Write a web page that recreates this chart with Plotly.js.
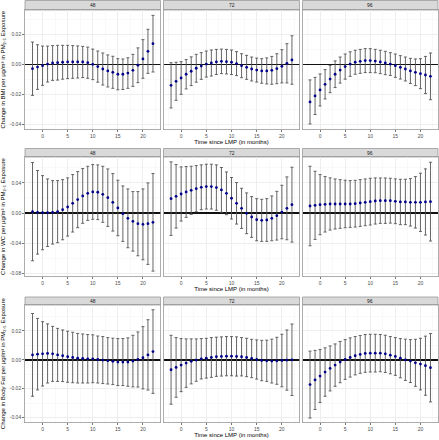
<!DOCTYPE html>
<html>
<head>
<meta charset="utf-8">
<script src="https://cdn.plot.ly/plotly-3.0.1.min.js"></script>
<style>html,body{margin:0;padding:0;background:#fff;}#chart{width:439px;height:440px;}</style>
</head>
<body>
<div id="chart"></div>
<script>
// ---- data ----
const months = [-2,-1,0,1,2,3,4,5,6,7,8,9,10,11,12,13,14,15,16,17,18,19,20,21,22];
const facetLabels = ["48","72","96"];
const outcomeTitles = [
  "Change in BMI per \u00b5g/m\u00b3 in PM\u2082.\u2085 Exposure",
  "Change in WC per \u00b5g/m\u00b3 in PM\u2082.\u2085 Exposure",
  "Change in Body Fat per \u00b5g/m\u00b3 in PM\u2082.\u2085 Exposure"
];
const xTitle = "Time since LMP (in months)";
const xTickVals = [0,5,10,15,20];
const xTickText = ["0","5","10","15","20"];
const yTickVals = [[0.02,0,-0.02,-0.04],[0.04,0,-0.04,-0.08],[0.02,0,-0.02,-0.04]];
const yTickText = [["0.02","0.00","-0.02","-0.04"],["0.04","0.00","-0.04","-0.08"],["0.02","0.00","-0.02","-0.04"]];

const bmi48Est = [-0.0027,-0.0016,-0.0007,0.0004,0.0011,0.0013,0.0016,0.0018,0.0018,0.0018,0.0018,0.0013,0.0002,-0.0013,-0.0029,-0.0042,-0.0051,-0.0064,-0.0064,-0.0056,-0.0038,-0.0004,0.0038,0.0089,0.0140];
const bmi48Ci  = [0.0178,0.0149,0.0131,0.0120,0.0116,0.0116,0.0113,0.0111,0.0109,0.0107,0.0104,0.0104,0.0102,0.0104,0.0107,0.0107,0.0107,0.0104,0.0102,0.0102,0.0107,0.0116,0.0129,0.0147,0.0189];
const bmi72Est = [-0.0138,-0.0111,-0.0089,-0.0064,-0.0044,-0.0024,-0.0009,0.0004,0.0011,0.0018,0.0022,0.0020,0.0016,0.0007,-0.0007,-0.0018,-0.0029,-0.0036,-0.0042,-0.0042,-0.0038,-0.0027,-0.0011,0.0009,0.0031];
const bmi72Ci  = [0.0151,0.0127,0.0109,0.0098,0.0096,0.0093,0.0089,0.0087,0.0087,0.0084,0.0082,0.0082,0.0082,0.0080,0.0080,0.0080,0.0080,0.0080,0.0082,0.0087,0.0093,0.0100,0.0111,0.0131,0.0162];
const bmi96Est = [-0.0249,-0.0209,-0.0169,-0.0131,-0.0096,-0.0064,-0.0036,-0.0013,0.0004,0.0016,0.0022,0.0027,0.0027,0.0024,0.0018,0.0011,0.0004,-0.0007,-0.0018,-0.0029,-0.0042,-0.0051,-0.0060,-0.0069,-0.0078];
const bmi96Ci  = [0.0147,0.0124,0.0107,0.0098,0.0091,0.0089,0.0087,0.0084,0.0082,0.0080,0.0080,0.0080,0.0080,0.0078,0.0078,0.0078,0.0076,0.0078,0.0078,0.0080,0.0084,0.0089,0.0100,0.0124,0.0156];

const wc48Est = [0.0018,0.0009,0.0004,0.0004,0.0009,0.0018,0.0044,0.0080,0.0129,0.0178,0.0227,0.0262,0.0280,0.0276,0.0249,0.0204,0.0142,0.0067,-0.0009,-0.0071,-0.0111,-0.0142,-0.0151,-0.0142,-0.0124];
const wc48Ci  = [0.0653,0.0556,0.0493,0.0449,0.0422,0.0413,0.0400,0.0387,0.0382,0.0373,0.0364,0.0360,0.0364,0.0364,0.0373,0.0382,0.0382,0.0369,0.0369,0.0391,0.0396,0.0427,0.0471,0.0542,0.0649];
const wc72Est = [0.0191,0.0222,0.0253,0.0280,0.0302,0.0324,0.0342,0.0351,0.0351,0.0338,0.0307,0.0262,0.0196,0.0129,0.0062,-0.0004,-0.0053,-0.0089,-0.0098,-0.0093,-0.0071,-0.0036,0.0013,0.0062,0.0111];
const wc72Ci  = [0.0489,0.0422,0.0360,0.0338,0.0320,0.0307,0.0298,0.0298,0.0298,0.0302,0.0298,0.0284,0.0276,0.0276,0.0267,0.0271,0.0271,0.0280,0.0280,0.0284,0.0298,0.0324,0.0356,0.0418,0.0498];
const wc96Est = [0.0093,0.0102,0.0111,0.0116,0.0120,0.0120,0.0120,0.0120,0.0120,0.0124,0.0133,0.0142,0.0151,0.0160,0.0164,0.0164,0.0164,0.0156,0.0147,0.0147,0.0142,0.0142,0.0142,0.0147,0.0151];
const wc96Ci  = [0.0529,0.0453,0.0400,0.0369,0.0347,0.0333,0.0324,0.0316,0.0311,0.0311,0.0311,0.0311,0.0311,0.0307,0.0302,0.0302,0.0298,0.0298,0.0302,0.0302,0.0316,0.0342,0.0387,0.0440,0.0524];

const bf48Est = [0.0034,0.0039,0.0041,0.0044,0.0041,0.0034,0.0028,0.0021,0.0016,0.0011,0.0009,0.0007,0.0007,0.0002,-0.0002,-0.0007,-0.0011,-0.0016,-0.0016,-0.0016,-0.0009,0.0002,0.0014,0.0034,0.0057];
const bf48Ci  = [0.0287,0.0248,0.0223,0.0205,0.0191,0.0184,0.0179,0.0177,0.0175,0.0172,0.0170,0.0168,0.0166,0.0163,0.0163,0.0161,0.0161,0.0163,0.0163,0.0168,0.0179,0.0191,0.0216,0.0244,0.0290];
const bf72Est = [-0.0069,-0.0053,-0.0037,-0.0023,-0.0011,-0.0002,0.0007,0.0011,0.0016,0.0021,0.0023,0.0025,0.0025,0.0023,0.0021,0.0016,0.0009,0.0002,-0.0005,-0.0007,-0.0009,-0.0007,-0.0005,-0.0002,0.0000];
const bf72Ci  = [0.0239,0.0207,0.0184,0.0168,0.0156,0.0147,0.0140,0.0138,0.0138,0.0136,0.0136,0.0136,0.0136,0.0136,0.0133,0.0133,0.0133,0.0136,0.0140,0.0143,0.0152,0.0163,0.0182,0.0209,0.0248];
const bf96Est = [-0.0172,-0.0140,-0.0113,-0.0085,-0.0060,-0.0037,-0.0016,0.0002,0.0016,0.0028,0.0037,0.0044,0.0046,0.0046,0.0046,0.0041,0.0032,0.0023,0.0011,0.0000,-0.0009,-0.0021,-0.0030,-0.0041,-0.0055];
const bf96Ci  = [0.0232,0.0205,0.0184,0.0168,0.0156,0.0147,0.0143,0.0138,0.0136,0.0133,0.0131,0.0131,0.0131,0.0131,0.0129,0.0129,0.0129,0.0131,0.0136,0.0143,0.0149,0.0163,0.0179,0.0205,0.0237];

// ---- build ----
const panels = [
  [bmi48Est,bmi48Ci],[bmi72Est,bmi72Ci],[bmi96Est,bmi96Ci],
  [wc48Est,wc48Ci],[wc72Est,wc72Ci],[wc96Est,wc96Ci],
  [bf48Est,bf48Ci],[bf72Est,bf72Ci],[bf96Est,bf96Ci]
];

const W = 439, H = 440;
const colPx = [[25,160.5],[163.5,299.5],[302.5,438]];
const rowPx = [[10,129.5],[157,276],[305,422.5]];
const stripPx = [[0.5,10],[148.5,157],[297,305]];
const yRanges = [[-0.0433,0.0365],[-0.0838,0.0745],[-0.0435,0.038]];
const yMinor = [0.01,0.02,0.01];
const FONT = "Liberation Sans, Arial, sans-serif";

const traces = [];
const layout = {
  width: W, height: H,
  margin: {l:0,r:0,t:0,b:0,pad:0},
  paper_bgcolor: "#ffffff",
  plot_bgcolor: "#ffffff",
  showlegend: false,
  font: {family: FONT, size: 6, color: "#1a1a1a"},
  shapes: [], annotations: []
};

panels.forEach((p, i) => {
  const r = Math.floor(i/3), c = i % 3;
  const n = i + 1;
  const xa = "x" + (n === 1 ? "" : n), ya = "y" + (n === 1 ? "" : n);
  traces.push({
    type: "scatter", mode: "markers",
    x: months, y: p[0], xaxis: xa, yaxis: ya,
    marker: {color: "#00008B", size: 2.8},
    error_y: {type: "data", array: p[1], visible: true, color: "#555555", thickness: 0.9, width: 1.5},
    hoverinfo: "skip"
  });
  const xd = [colPx[c][0]/W, colPx[c][1]/W];
  const yd = [1 - rowPx[r][1]/H, 1 - rowPx[r][0]/H];
  const xaxis = {
    domain: xd, anchor: ya, range: [-3.5, 23.5],
    tickmode: "array", tickvals: xTickVals, ticktext: xTickText,
    ticks: "outside", ticklen: 2, tickwidth: 0.8, tickcolor: "#555",
    tickfont: {size: 5, color: "#4d4d4d", family: FONT},
    showgrid: true, gridcolor: "#ebebeb", gridwidth: 0.8,
    minor: {dtick: 2.5, tick0: 0, showgrid: true, gridcolor: "#f4f4f4", gridwidth: 0.5},
    zeroline: false, showline: true, mirror: true, linecolor: "#999999", linewidth: 0.8,
    automargin: false, fixedrange: true
  };
  if (c === 1) xaxis.title = {text: xTitle, font: {size: 6, color: "#000", family: FONT}, standoff: 1};
  layout["xaxis" + (n === 1 ? "" : n)] = xaxis;
  const yaxis = {
    domain: yd, anchor: xa, range: yRanges[r],
    tickmode: "array", tickvals: yTickVals[r], ticktext: yTickText[r],
    showticklabels: c === 0,
    ticks: c === 0 ? "outside" : "", ticklen: 2, tickwidth: 0.8, tickcolor: "#555",
    tickfont: {size: 5, color: "#4d4d4d", family: FONT},
    showgrid: true, gridcolor: "#ebebeb", gridwidth: 0.8,
    minor: {dtick: yMinor[r], tick0: 0, showgrid: true, gridcolor: "#f4f4f4", gridwidth: 0.5},
    zeroline: true, zerolinecolor: "#111111", zerolinewidth: 1.6,
    showline: true, mirror: true, linecolor: "#999999", linewidth: 0.8,
    automargin: false, fixedrange: true
  };
  if (c === 0) yaxis.title = {text: outcomeTitles[r], font: {size: 6, color: "#000", family: FONT}, standoff: 4};
  layout["yaxis" + (n === 1 ? "" : n)] = yaxis;
  // strip
  layout.shapes.push({
    type: "rect", xref: "paper", yref: "paper",
    x0: xd[0], x1: xd[1], y0: 1 - stripPx[r][1]/H, y1: 1 - stripPx[r][0]/H,
    fillcolor: "#d9d9d9", line: {color: "#999999", width: 0.8}, layer: "below"
  });
  layout.annotations.push({
    xref: "paper", yref: "paper", x: (xd[0]+xd[1])/2, y: 1 - (stripPx[r][0]+stripPx[r][1])/2/H,
    text: facetLabels[c], showarrow: false, xanchor: "center", yanchor: "middle",
    font: {size: 5, color: "#1a1a1a", family: FONT}
  });
});

Plotly.newPlot("chart", traces, layout, {staticPlot: true, displayModeBar: false});
</script>
</body>
</html>
